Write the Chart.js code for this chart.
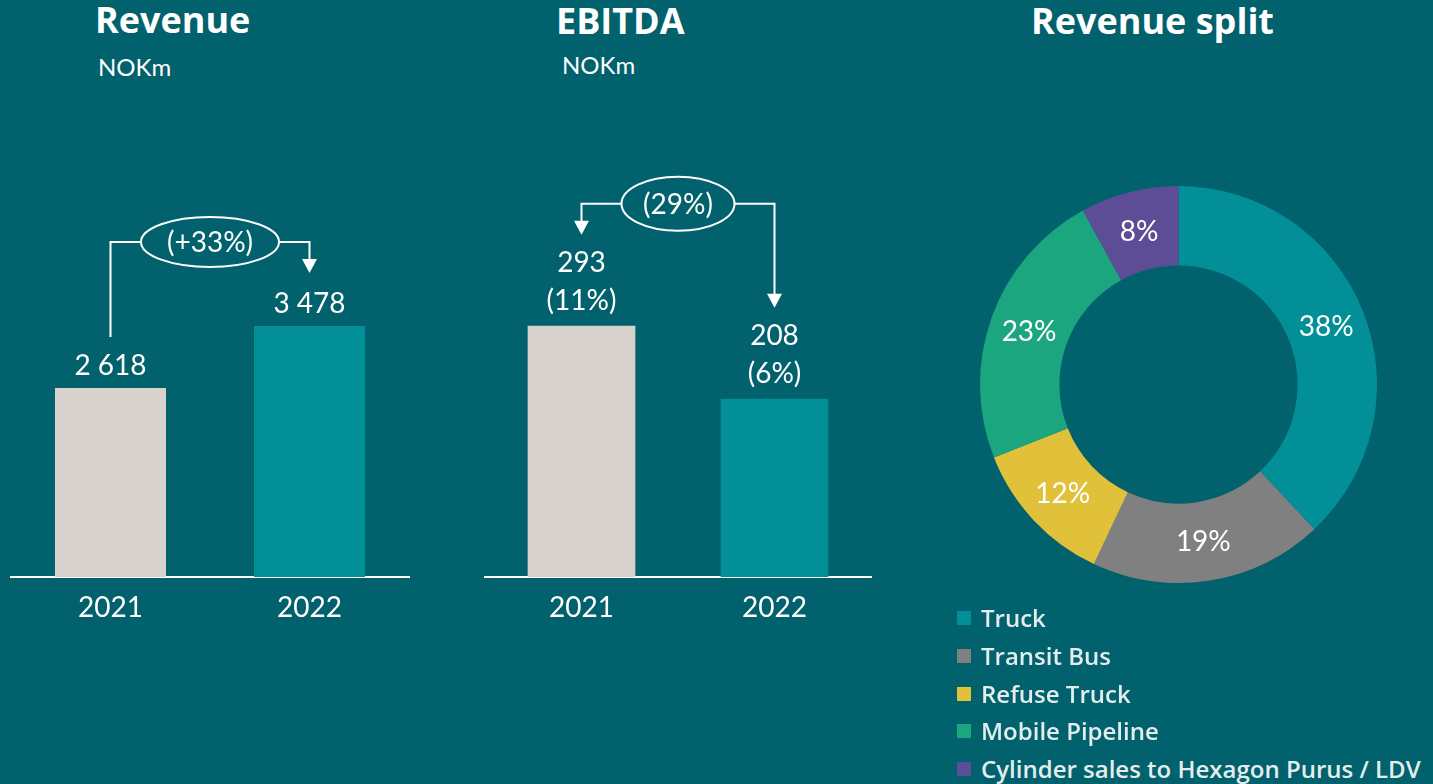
<!DOCTYPE html>
<html><head><meta charset="utf-8">
<script src="https://cdn.jsdelivr.net/npm/chart.js@4.4.1/dist/chart.umd.min.js"></script>
<style>
html,body{margin:0;padding:0;background:#01616C;width:1433px;height:784px;overflow:hidden;font-family:Lato,sans-serif;color:#fff}
.title{position:absolute;font-family:'Open Sans',sans-serif;font-weight:700;font-size:36px;line-height:36px;white-space:nowrap}
.sub{position:absolute;font-family:Lato,sans-serif;font-size:24px;line-height:24px;white-space:nowrap}
canvas{position:absolute}
#legend{position:absolute;left:957px;top:0;width:480px}
.li{position:absolute;left:0;height:30px;line-height:30px;display:flex;align-items:center;white-space:nowrap;font-family:'Open Sans',sans-serif;font-weight:600;font-size:24px;color:#e4eded}
.sw{width:14px;height:14px;margin-right:10px;flex:none}
</style></head><body>
<div class="title" style="left:95px;top:2px">Revenue</div>
<div class="sub" style="left:98px;top:55px">NOKm</div>
<div class="title" style="left:556px;top:3px">EBITDA</div>
<div class="sub" style="left:562px;top:53px">NOKm</div>
<div class="title" style="left:1031px;top:3px">Revenue split</div>
<canvas id="rev" width="440" height="660" style="left:0;top:0;width:440px;height:660px"></canvas>
<canvas id="ebitda" width="460" height="660" style="left:440px;top:0;width:460px;height:660px"></canvas>
<canvas id="split" width="437" height="437" style="left:960px;top:166px;width:437px;height:437px"></canvas>
<div id="legend"></div>
<script>
// ---- data ----
const categories = ['2021', '2022'];
const revenueValues = [2618, 3478];
const revenueGrowth = '(+33%)';
const ebitdaValues = [293, 208];
const ebitdaMargins = ['(11%)', '(6%)'];
const ebitdaGrowth = '(29%)';
const splitLabels = ['Truck', 'Transit Bus', 'Refuse Truck', 'Mobile Pipeline', 'Cylinder sales to Hexagon Purus / LDV'];
const splitValues = [38, 19, 12, 23, 8];

// ---- styles ----
const barColors = ['#D7D2CC', '#038F97'];
const splitColors = ['#038F97', '#808080', '#E2C13A', '#1BA680', '#5D4D96'];
const WHITE = '#FFFFFF';

Chart.defaults.font.family = 'Lato, sans-serif';
Chart.defaults.color = WHITE;

function fmt(v) { return String(v).replace(/\B(?=(\d{3})+(?!\d))/g, ' '); }

function arrowDown(ctx, x, tipY) {
  ctx.beginPath();
  ctx.moveTo(x, tipY);
  ctx.lineTo(x - 7.5, tipY - 14);
  ctx.lineTo(x + 7.5, tipY - 14);
  ctx.closePath();
  ctx.fill();
}

const barAnnot = {
  id: 'barAnnot',
  afterDraw(chart, args, o) {
    const ctx = chart.ctx;
    const bars = chart.getDatasetMeta(0).data;
    const xs = bars.map(b => b.x), tops = bars.map(b => b.y);
    ctx.save();
    ctx.fillStyle = WHITE; ctx.strokeStyle = WHITE; ctx.lineWidth = 2;
    ctx.font = '28px Lato, sans-serif'; ctx.textAlign = 'center'; ctx.textBaseline = 'alphabetic';
    o.labels.forEach((lines, i) => {
      const n = lines.length;
      lines.forEach((t, j) => ctx.fillText(t, xs[i], tops[i] - o.labelGap - (n - 1 - j) * o.lineGap));
    });
    const yL = Math.min(...tops) - o.lineAbove;
    const cx = (xs[0] + xs[1]) / 2;
    // left leg
    ctx.beginPath();
    ctx.moveTo(cx - o.rx, yL); ctx.lineTo(xs[0], yL);
    const leftEnd = tops[0] - o.leftOffset;
    ctx.lineTo(xs[0], o.leftArrow ? leftEnd - 13 : leftEnd);
    ctx.stroke();
    if (o.leftArrow) arrowDown(ctx, xs[0], leftEnd);
    // right leg
    const rightEnd = tops[1] - o.rightOffset;
    ctx.beginPath();
    ctx.moveTo(cx + o.rx, yL); ctx.lineTo(xs[1], yL); ctx.lineTo(xs[1], rightEnd - 13);
    ctx.stroke();
    arrowDown(ctx, xs[1], rightEnd);
    // ellipse
    ctx.beginPath();
    ctx.ellipse(cx, yL, o.rx, o.ry, 0, 0, Math.PI * 2);
    ctx.stroke();
    ctx.fillText(o.growth, cx, yL + 10);
    ctx.restore();
  }
};

function barConfig(values, max, padding, annot) {
  return {
    type: 'bar',
    data: { labels: categories, datasets: [{ data: values, backgroundColor: barColors, borderWidth: 0, barPercentage: 0.558, categoryPercentage: 1 }] },
    options: {
      responsive: false, animation: false, devicePixelRatio: 1,
      layout: { padding },
      plugins: { legend: { display: false }, tooltip: { enabled: false }, barAnnot: annot },
      scales: {
        x: {
          grid: { display: false, drawTicks: false },
          border: { display: true, color: WHITE, width: 2 },
          ticks: { color: WHITE, font: { size: 28 }, padding: 14 },
          afterFit(s) { s.height = 60; }
        },
        y: { display: false, min: 0, max }
      }
    },
    plugins: [barAnnot]
  };
}

new Chart(document.getElementById('rev'), barConfig(revenueValues, 5000,
  { left: 11, right: 31, top: 216, bottom: 23 },
  { labels: revenueValues.map(v => [fmt(v)]), labelGap: 13, lineGap: 38, lineAbove: 84, rx: 69, ry: 25,
    leftArrow: false, leftOffset: 51, rightOffset: 53, growth: revenueGrowth }));

new Chart(document.getElementById('ebitda'), barConfig(ebitdaValues, 400,
  { left: 45, right: 29, top: 234, bottom: 23 },
  { labels: ebitdaValues.map((v, i) => [fmt(v), ebitdaMargins[i]]), labelGap: 16, lineGap: 38, lineAbove: 122, rx: 56.5, ry: 27,
    leftArrow: true, leftOffset: 91, rightOffset: 91, growth: ebitdaGrowth }));

const arcLabels = {
  id: 'arcLabels',
  afterDraw(chart) {
    const ctx = chart.ctx;
    ctx.save();
    ctx.fillStyle = WHITE; ctx.font = '28px Lato, sans-serif'; ctx.textAlign = 'center'; ctx.textBaseline = 'alphabetic';
    chart.getDatasetMeta(0).data.forEach((arc, i) => {
      const p = arc.tooltipPosition();
      ctx.fillText(splitValues[i] + '%', p.x, p.y + 10);
    });
    ctx.restore();
  }
};

new Chart(document.getElementById('split'), {
  type: 'doughnut',
  data: { labels: splitLabels, datasets: [{ data: splitValues, backgroundColor: splitColors, borderWidth: 0 }] },
  options: {
    responsive: false, animation: false, devicePixelRatio: 1, cutout: '60%',
    layout: { padding: 20 },
    plugins: { legend: { display: false }, tooltip: { enabled: false } }
  },
  plugins: [arcLabels]
});

// legend
const lg = document.getElementById('legend');
splitLabels.forEach((t, i) => {
  const d = document.createElement('div');
  d.className = 'li';
  d.style.top = (603 + i * 37.8) + 'px';
  d.innerHTML = '<span class="sw" style="background:' + splitColors[i] + '"></span><span>' + t + '</span>';
  lg.appendChild(d);
});
</script>
</body></html>
